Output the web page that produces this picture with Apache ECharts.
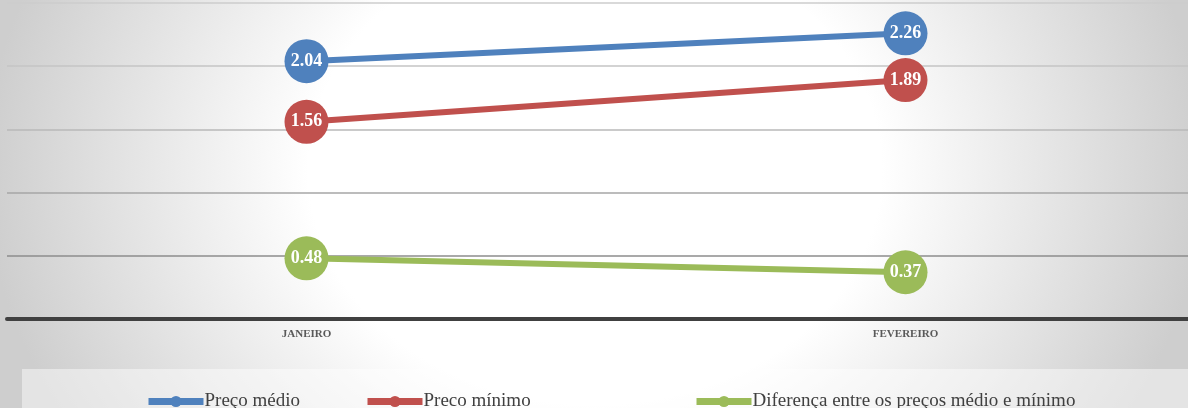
<!DOCTYPE html>
<html>
<head>
<meta charset="utf-8">
<script src="https://cdn.jsdelivr.net/npm/echarts@6/dist/echarts.min.js"></script>
<style>
  html, body { margin: 0; padding: 0; }
  #chart {
    width: 1188px;
    height: 408px;
    background: radial-gradient(ellipse 610px 500px at 595px 170px, #ffffff 47%, #cecece 100%);
  }
</style>
</head>
<body>
<div id="chart"></div>
<script>
// dados
const meses = ['JANEIRO', 'FEVEREIRO']
const precoMedio = [2.04, 2.26]
const precoMinimo = [1.56, 1.89]
const diferenca = [0.48, 0.37]
const nomes = ['Preço médio', 'Preco mínimo', 'Diferença entre os preços médio e mínimo']
const cores = ['#4f81bd', '#c0504d', '#9bbb59']

const chart = echarts.init(document.getElementById('chart'))

const serif = '"Liberation Serif", "DejaVu Serif", serif'

// uma série de linha com os círculos e rótulos
function serie (nome, dados, cor) {
  return {
    name: nome,
    type: 'line',
    data: dados,
    symbol: 'circle',
    symbolSize: 44,
    lineStyle: { width: 6, color: cor },
    itemStyle: { color: cor },
    label: {
      show: true,
      position: 'inside',
      color: '#fff',
      fontFamily: serif,
      fontWeight: 'bold',
      fontSize: 18,
      formatter: p => p.value.toFixed(2),
    },
    emphasis: { disabled: true },
  }
}

// legenda: cada item posicionado como no original
const legendaX = [145, 364, 693]
const legendas = nomes.map((n, i) => ({
  data: [n],
  left: legendaX[i],
  top: 392,
  padding: 0,
  itemWidth: 55,
  itemHeight: 14,
  itemGap: 0,
  lineStyle: { width: 7 },
  textStyle: { fontFamily: serif, fontSize: 19, color: '#404040', padding: [0, 0, 0, -4] },
}))

chart.setOption({
  animation: false,
  grid: { left: 7, top: 3, width: 1198, height: 316, outerBoundsMode: 'none' },
  xAxis: {
    type: 'category',
    data: meses,
    axisLine: { lineStyle: { color: '#404040', width: 4 } },
    axisTick: { show: false },
    axisLabel: {
      fontFamily: serif,
      fontWeight: 'bold',
      fontSize: 11,
      color: '#595959',
      margin: 10,
    },
  },
  yAxis: {
    type: 'value',
    min: 0,
    max: 2.5,
    interval: 0.5,
    axisLabel: { show: false },
    axisLine: { show: false },
    axisTick: { show: false },
    splitLine: {
      lineStyle: { color: ['#404040', '#8c8c8c', '#a6a6a6', '#b8b8b8', '#c4c4c4', '#cccccc'], width: 1.5 },
    },
  },
  legend: legendas,
  graphic: [
    {
      type: 'rect',
      z: -1,
      silent: true,
      shape: { x: 22, y: 369, width: 1170, height: 45 },
      style: { fill: 'rgba(255,255,255,0.45)' },
    },
  ],
  series: [
    serie(nomes[0], precoMedio, cores[0]),
    serie(nomes[1], precoMinimo, cores[1]),
    serie(nomes[2], diferenca, cores[2]),
  ],
})
</script>
</body>
</html>
